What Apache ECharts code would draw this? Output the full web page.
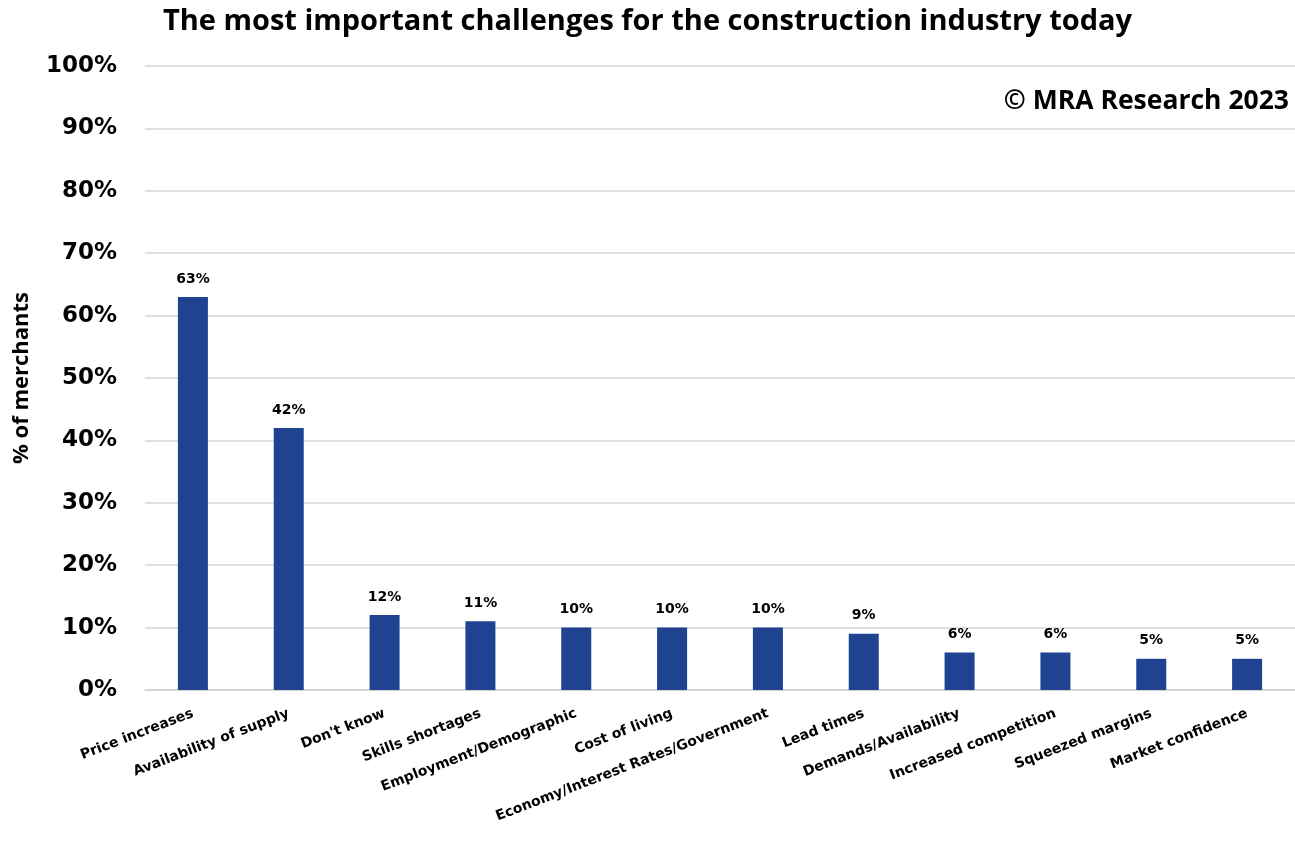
<!DOCTYPE html>
<html>
<head>
<meta charset="utf-8">
<script src="https://cdn.jsdelivr.net/npm/echarts@6/dist/echarts.min.js"></script>
<style>
  html, body { margin: 0; padding: 0; background: #fff; }
  #chart { width: 1295px; height: 848px; }
</style>
</head>
<body>
<div id="chart"></div>
<script>
// Survey answers: share of merchants naming each challenge
const categories = [
  'Price increases', 'Availability of supply', "Don't know", 'Skills shortages',
  'Employment/Demographic', 'Cost of living', 'Economy/Interest Rates/Government',
  'Lead times', 'Demands/Availability', 'Increased competition',
  'Squeezed margins', 'Market confidence'
];
const shares = [63, 42, 12, 11, 10, 10, 10, 9, 6, 6, 5, 5];
const yTicks = [0, 10, 20, 30, 40, 50, 60, 70, 80, 90, 100];

const chart = echarts.init(document.getElementById('chart'));
chart.setOption({
  backgroundColor: '#ffffff',
  animation: false,
  title: [
    {
      text: 'The most important challenges for the construction industry today',
      left: 'center',
      top: 2,
      textStyle: { fontFamily: 'Open Sans', fontWeight: 'bold', fontSize: 29, color: '#000' }
    },
    {
      text: '© MRA Research 2023',
      right: 1,
      top: 83,
      textStyle: { fontFamily: 'Open Sans', fontWeight: 'bold', fontSize: 26.5, color: '#000' }
    }
  ],
  grid: { left: 145, top: 66, width: 1152, height: 624, containLabel: false },
  xAxis: {
    type: 'category',
    data: categories,
    axisLine: { show: true, lineStyle: { color: '#d0d0d0', width: 1.5 } },
    axisTick: { show: false },
    axisLabel: {
      interval: 0,
      rotate: 21,
      margin: 23,
      fontFamily: 'DejaVu Sans',
      fontWeight: 'bold',
      fontSize: 14,
      color: '#000'
    }
  },
  yAxis: {
    type: 'value',
    min: yTicks[0],
    max: yTicks[yTicks.length - 1],
    interval: 10,
    name: '% of merchants',
    nameLocation: 'middle',
    nameGap: 112,
    nameRotate: 90,
    nameTextStyle: { fontFamily: 'Open Sans', fontWeight: 'bold', fontSize: 22, color: '#000' },
    axisLine: { show: false },
    axisTick: { show: false },
    axisLabel: {
      margin: 28,
      formatter: v => v + '%',
      fontFamily: 'DejaVu Sans',
      fontWeight: 'bold',
      fontSize: 23,
      color: '#000'
    },
    splitLine: { lineStyle: { color: '#d6d6d6', width: 1.5 } }
  },
  series: [{
    type: 'bar',
    data: shares,
    barWidth: 30,
    itemStyle: { color: '#1F4391' },
    label: {
      show: true,
      position: 'top',
      distance: 11,
      formatter: p => p.value + '%',
      fontFamily: 'DejaVu Sans',
      fontWeight: 'bold',
      fontSize: 14,
      color: '#000'
    }
  }]
});
</script>
</body>
</html>
